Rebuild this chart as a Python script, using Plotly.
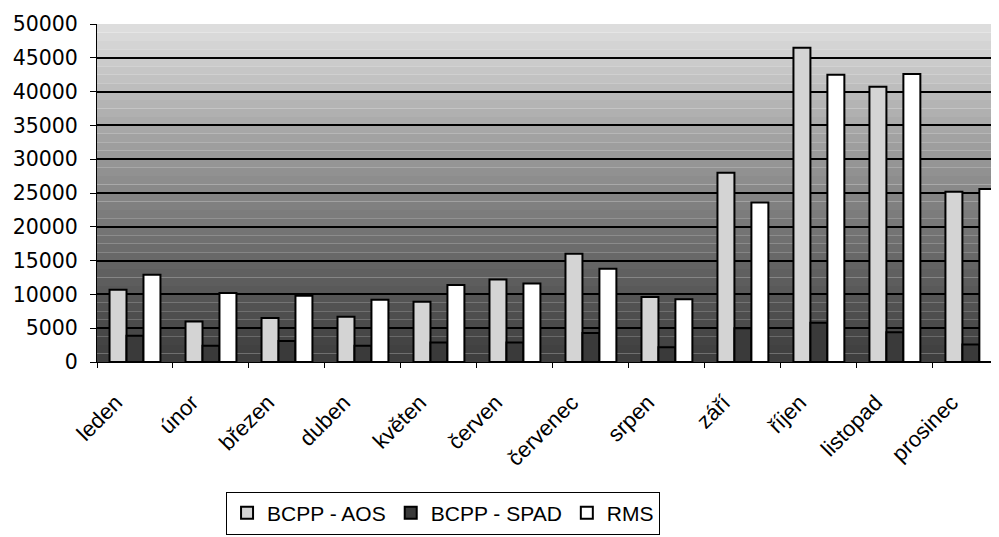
import plotly.graph_objects as go

months = ["leden", "únor", "březen", "duben", "květen", "červen",
          "červenec", "srpen", "září", "říjen", "listopad", "prosinec"]
bcpp_aos = [10700, 6000, 6500, 6700, 8900, 12200, 16000, 9600, 28000, 46500, 40700, 25200]
bcpp_spad = [3900, 2400, 3100, 2400, 2900, 2900, 4300, 2200, 5000, 5800, 4400, 2600]
rms = [12900, 10200, 9800, 9200, 11400, 11600, 13800, 9300, 23600, 42500, 42600, 25600]

fig = go.Figure()
fig.add_trace(go.Bar(name="BCPP - AOS", x=months, y=bcpp_aos,
                     marker=dict(color="#d4d4d4", line=dict(color="black", width=2))))
fig.add_trace(go.Bar(name="BCPP - SPAD", x=months, y=bcpp_spad,
                     marker=dict(color="#3a3a3a", line=dict(color="black", width=2))))
fig.add_trace(go.Bar(name="RMS", x=months, y=rms,
                     marker=dict(color="white", line=dict(color="black", width=2))))

# gradient background bands (light at top, dark at bottom)
n = 40
shapes = []
for i in range(n):
    t = (i + 0.5) / n
    g = int(62 + (224 - 62) * (t ** 1.15))
    shapes.append(dict(type="rect", xref="paper", yref="paper",
                       x0=0, x1=1, y0=i / n, y1=(i + 1) / n,
                       fillcolor=f"rgb({g},{g},{g})", line=dict(width=0),
                       layer="below"))

# page body has an 8px margin, so the figure is sized/offset to compensate
fig.update_layout(
    width=991, height=529,
    margin=dict(l=89, r=0, t=16, b=175, autoexpand=False),
    paper_bgcolor="white",
    plot_bgcolor="rgba(0,0,0,0)",
    barmode="group",
    bargap=0.33,
    bargroupgap=0,
    shapes=shapes,
    font=dict(family="Liberation Sans", color="black"),
    showlegend=True,
    legend=dict(orientation="h", xref="container", yref="container",
                x=0.439, xanchor="center", y=0.086, yanchor="top",
                bordercolor="black", borderwidth=1, bgcolor="white",
                font=dict(family="Liberation Sans", size=21),
                itemwidth=30, tracegroupgap=0),
)
fig.update_xaxes(range=[-0.5, 11.37], showline=True, linecolor="black", linewidth=1,
                 ticks="outside", tickson="boundaries", ticklen=5, tickcolor="black",
                 tickangle=-45, tickfont=dict(family="Liberation Sans", size=22),
                 ticklabelstandoff=18, ticklabelshift=-19,
                 showgrid=False, automargin=False)
fig.update_yaxes(range=[0, 50000], dtick=5000, showline=True, linecolor="black",
                 linewidth=1, ticks="outside", ticklen=6, tickcolor="black",
                 tickfont=dict(family="DejaVu Sans", size=20.5), ticklabelstandoff=8,
                 showgrid=True, gridcolor="black", gridwidth=1.5,
                 tickformat="d", zeroline=False, automargin=False)

fig.write_html("out.html")
